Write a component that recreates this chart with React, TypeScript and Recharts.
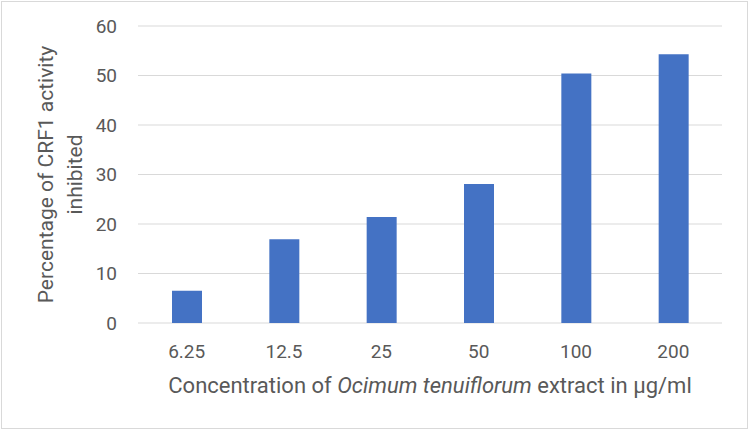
import { BarChart, Bar, XAxis, YAxis, CartesianGrid } from 'recharts'

const concentrations = ['6.25', '12.5', '25', '50', '100', '200']
const inhibition = [6.5, 16.9, 21.4, 28.1, 50.4, 54.3]
const yTicks = [0, 10, 20, 30, 40, 50, 60]

const data = concentrations.map((c, i) => ({ conc: c, value: inhibition[i] }))

const FONT = 'Roboto, "Open Sans", sans-serif'
const TEXT = '#595959'

function XTitle(props: any) {
  const { x, width } = props.viewBox
  return (
    <text x={x + width / 2} y={393} textAnchor="middle" fill={TEXT} fontSize={22} fontFamily={FONT}>
      Concentration of <tspan fontStyle="italic">Ocimum tenuiflorum</tspan> extract in µg/ml
    </text>
  )
}

function YTitle(props: any) {
  const { y, height } = props.viewBox
  const cy = y + height / 2
  return (
    <g fill={TEXT} fontSize={21} fontFamily={FONT}>
      <text x={53} y={cy} textAnchor="middle" transform={`rotate(-90 53 ${cy})`}>
        Percentage of CRF1 activity
      </text>
      <text x={82} y={cy} textAnchor="middle" transform={`rotate(-90 82 ${cy})`}>
        inhibited
      </text>
    </g>
  )
}

export default function App() {
  return (
    <div style={{ position: 'relative', width: 750, height: 430, background: '#fff' }}>
      <style>{'body{margin:0}'}</style>
      <div
        style={{
          position: 'absolute',
          left: 1,
          top: 1,
          width: 747,
          height: 428,
          border: '1px solid #d9d9d9',
          boxSizing: 'border-box',
        }}
      />
      <BarChart
        width={750}
        height={430}
        data={data}
        margin={{ top: 26, right: 28, bottom: 0, left: 0 }}
        style={{ position: 'absolute', left: 0, top: 0 }}
      >
        <CartesianGrid vertical={false} stroke="#d9d9d9" strokeWidth={1} />
        <XAxis
          dataKey="conc"
          height={107}
          axisLine={false}
          tickLine={false}
          tickSize={0}
          tickMargin={22}
          tick={{ fill: TEXT, fontSize: 19, fontFamily: FONT }}
          label={{ content: XTitle }}
        />
        <YAxis
          width={138}
          domain={[0, 60]}
          ticks={yTicks}
          axisLine={false}
          tickLine={false}
          tickSize={0}
          tickMargin={21}
          tick={{ fill: TEXT, fontSize: 19, fontFamily: FONT }}
          label={{ content: YTitle }}
        />
        <Bar dataKey="value" fill="#4472c4" barSize={30} isAnimationActive={false} />
      </BarChart>
    </div>
  )
}
